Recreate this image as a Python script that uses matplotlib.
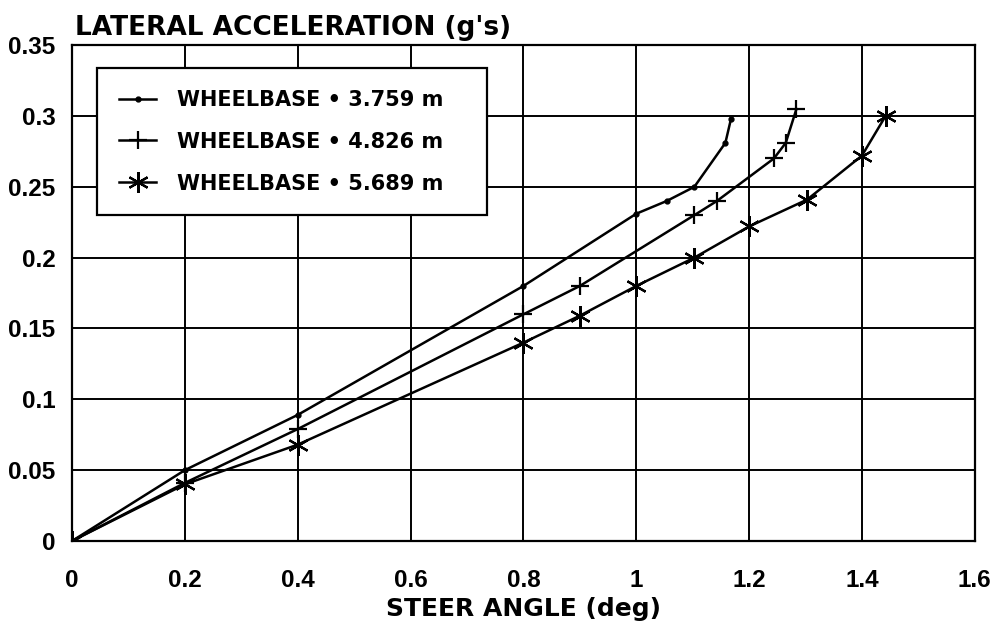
import matplotlib
matplotlib.use("Agg")
import matplotlib.pyplot as plt

# steer angle (deg) vs lateral acceleration (g's)
steer_3759 = [0, 0.2, 0.4, 0.8, 1.0, 1.054, 1.103, 1.158, 1.168]
lat_3759 = [0, 0.050, 0.089, 0.180, 0.231, 0.240, 0.250, 0.281, 0.298]

steer_4826 = [0, 0.2, 0.4, 0.8, 0.9, 1.103, 1.143, 1.244, 1.265, 1.284]
lat_4826 = [0, 0.041, 0.079, 0.160, 0.180, 0.230, 0.240, 0.270, 0.281, 0.305]

steer_5689 = [0, 0.2, 0.4, 0.8, 0.9, 1.0, 1.103, 1.2, 1.303, 1.4, 1.442]
lat_5689 = [0, 0.040, 0.068, 0.140, 0.159, 0.180, 0.200, 0.222, 0.241, 0.272, 0.300]

series_labels = ['WHEELBASE \u2022 3.759 m', 'WHEELBASE \u2022 4.826 m', 'WHEELBASE \u2022 5.689 m']
xticks = [0, 0.2, 0.4, 0.6, 0.8, 1.0, 1.2, 1.4, 1.6]
xtick_labels = ['0', '0.2', '0.4', '0.6', '0.8', '1', '1.2', '1.4', '1.6']
yticks = [0, 0.05, 0.1, 0.15, 0.2, 0.25, 0.3, 0.35]
ytick_labels = ['0', '0.05', '0.1', '0.15', '0.2', '0.25', '0.3', '0.35']

plt.rcParams['font.family'] = ['DejaVu Sans']
plt.rcParams['font.weight'] = 'bold'

fig = plt.figure(figsize=(9.92, 6.3), dpi=100)
ax = fig.add_axes([0.0726, 0.1413, 0.910, 0.787])

lw = 1.8
p1 = ax.plot(steer_3759, lat_3759, color='black', lw=lw, marker='o', markersize=3.5)
p2 = ax.plot(steer_4826, lat_4826, color='black', lw=lw, marker='+', markersize=13, markeredgewidth=1.6)
p3 = ax.plot(steer_5689, lat_5689, color='black', lw=lw, marker=(6, 2, 0), markersize=15, markeredgewidth=1.6)

ax.set_xlim(0, 1.6)
ax.set_ylim(0, 0.35)
ax.set_xticks(xticks)
ax.set_xticklabels(xtick_labels)
ax.set_yticks(yticks)
ax.set_yticklabels(ytick_labels)
ax.tick_params(axis='y', length=0, pad=12)
ax.tick_params(axis='x', length=0, pad=20)
for lab in ax.get_xticklabels() + ax.get_yticklabels():
    lab.set_family(['Liberation Sans', 'DejaVu Sans'])
    lab.set_fontsize(17.5)
    lab.set_fontweight('bold')
ax.grid(True, color='black', lw=1.4)
ax.set_axisbelow(True)
for s in ax.spines.values():
    s.set_linewidth(1.6)

ax.set_xlabel('STEER ANGLE (deg)', fontsize=18, fontweight='bold', labelpad=4)
fig.text(0.076, 0.945, "LATERAL ACCELERATION (g's)", fontsize=19, fontweight='bold',
         ha='left', va='baseline')

leg = ax.legend((p1[0], p2[0], p3[0]), series_labels, loc='upper left',
                bbox_to_anchor=(0.0277, 0.5, 0.432, 0.454), mode='expand',
                borderaxespad=0, fontsize=15, frameon=True,
                fancybox=False, edgecolor='black', handlelength=1.8,
                borderpad=1.05, labelspacing=1.05, handletextpad=1.0)
leg.get_frame().set_linewidth(1.6)
leg.get_frame().set_alpha(1)

fig.savefig('out.png', dpi=100, facecolor='white')
